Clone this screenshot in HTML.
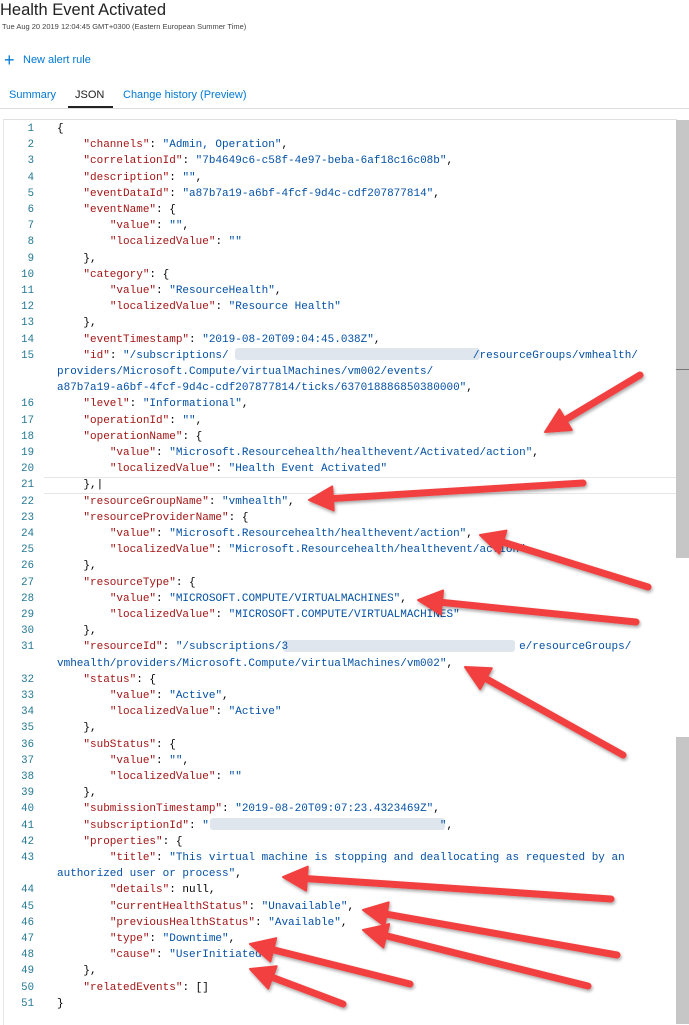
<!DOCTYPE html>
<html><head><meta charset="utf-8"><style>
body{margin:0;width:689px;height:1024px;background:#fff;position:relative;overflow:hidden;font-family:"Liberation Sans",sans-serif}
.t{position:absolute;white-space:nowrap}
.ln{position:absolute;left:0;width:34px;text-align:right;font-family:"Liberation Mono",monospace;font-size:10.7px;color:#237893;line-height:16.2px}
.cd{position:absolute;left:57px;font-family:"Liberation Mono",monospace;font-size:11px;color:#000;line-height:16.2px;white-space:pre}
.k{color:#a31515}.s{color:#0451a5}
.blur{position:absolute;height:12px;background:#dfe6ee;border-radius:3px}
</style></head><body>
<div class="t" style="left:0;top:1px;font-size:16.5px;color:#222;">Health Event Activated</div>
<div class="t" style="left:2px;top:22px;font-size:7.5px;color:#444;">Tue Aug 20 2019 12:04:45 GMT+0300 (Eastern European Summer Time)</div>
<div class="t" style="left:4px;top:51px;font-size:18px;color:#0078d4;line-height:18px;">+</div>
<div class="t" style="left:23px;top:54px;font-size:11px;color:#0078d4;">New alert rule</div>
<div class="t" style="left:9px;top:89px;font-size:11px;color:#0078d4;">Summary</div>
<div class="t" style="left:75px;top:89px;font-size:11px;color:#222;">JSON</div>
<div class="t" style="left:123px;top:89px;font-size:11px;color:#0078d4;">Change history (Preview)</div>
<div style="position:absolute;left:0;top:108px;width:689px;height:1px;background:#ddd"></div>
<div style="position:absolute;left:68px;top:106px;width:45px;height:2px;background:#222"></div>
<div style="position:absolute;left:3px;top:119px;width:673px;height:905px;border-top:1px solid #e0e0e0;border-left:1px solid #e8e8e8"></div>
<div style="position:absolute;left:676px;top:120px;width:13px;height:438px;background:#c6c6c6"></div>
<div style="position:absolute;left:676px;top:737px;width:13px;height:287px;background:#c6c6c6"></div>
<div style="position:absolute;left:676px;top:369px;width:13px;height:1px;background:#777"></div>
<div style="position:absolute;left:44px;top:477px;width:632px;height:15px;border-top:1px solid #e6e6e6;border-bottom:1px solid #e6e6e6"></div>
<div class="blur" style="left:235px;top:348px;width:245px"></div>
<div class="blur" style="left:283px;top:640px;width:232px"></div>
<div class="blur" style="left:210px;top:818px;width:235px"></div>
<div id="code"></div>
<svg style="position:absolute;left:0;top:0" width="689" height="1024">
<defs><filter id="sh" x="-20%" y="-50%" width="140%" height="200%"><feDropShadow dx="1" dy="2" stdDeviation="1.5" flood-color="#000" flood-opacity="0.35"/></filter></defs>
<g id="arr" filter="url(#sh)"></g>
</svg>
<script>
const L=[
['1','{'],
['2','    <k>"channels"</k>: <s>"Admin, Operation"</s>,'],
['3','    <k>"correlationId"</k>: <s>"7b4649c6-c58f-4e97-beba-6af18c16c08b"</s>,'],
['4','    <k>"description"</k>: <s>""</s>,'],
['5','    <k>"eventDataId"</k>: <s>"a87b7a19-a6bf-4fcf-9d4c-cdf207877814"</s>,'],
['6','    <k>"eventName"</k>: {'],
['7','        <k>"value"</k>: <s>""</s>,'],
['8','        <k>"localizedValue"</k>: <s>""</s>'],
['9','    },'],
['10','    <k>"category"</k>: {'],
['11','        <k>"value"</k>: <s>"ResourceHealth"</s>,'],
['12','        <k>"localizedValue"</k>: <s>"Resource Health"</s>'],
['13','    },'],
['14','    <k>"eventTimestamp"</k>: <s>"2019-08-20T09:04:45.038Z"</s>,'],
['15','    <k>"id"</k>: <s>"/subscriptions/                                     /resourceGroups/vmhealth/</s>'],
['','<s>providers/Microsoft.Compute/virtualMachines/vm002/events/</s>'],
['','<s>a87b7a19-a6bf-4fcf-9d4c-cdf207877814/ticks/637018886850380000"</s>,'],
['16','    <k>"level"</k>: <s>"Informational"</s>,'],
['17','    <k>"operationId"</k>: <s>""</s>,'],
['18','    <k>"operationName"</k>: {'],
['19','        <k>"value"</k>: <s>"Microsoft.Resourcehealth/healthevent/Activated/action"</s>,'],
['20','        <k>"localizedValue"</k>: <s>"Health Event Activated"</s>'],
['21','    },|'],
['22','    <k>"resourceGroupName"</k>: <s>"vmhealth"</s>,'],
['23','    <k>"resourceProviderName"</k>: {'],
['24','        <k>"value"</k>: <s>"Microsoft.Resourcehealth/healthevent/action"</s>,'],
['25','        <k>"localizedValue"</k>: <s>"Microsoft.Resourcehealth/healthevent/action"</s>'],
['26','    },'],
['27','    <k>"resourceType"</k>: {'],
['28','        <k>"value"</k>: <s>"MICROSOFT.COMPUTE/VIRTUALMACHINES"</s>,'],
['29','        <k>"localizedValue"</k>: <s>"MICROSOFT.COMPUTE/VIRTUALMACHINES"</s>'],
['30','    },'],
['31','    <k>"resourceId"</k>: <s>"/subscriptions/3                                   e/resourceGroups/</s>'],
['','<s>vmhealth/providers/Microsoft.Compute/virtualMachines/vm002"</s>,'],
['32','    <k>"status"</k>: {'],
['33','        <k>"value"</k>: <s>"Active"</s>,'],
['34','        <k>"localizedValue"</k>: <s>"Active"</s>'],
['35','    },'],
['36','    <k>"subStatus"</k>: {'],
['37','        <k>"value"</k>: <s>""</s>,'],
['38','        <k>"localizedValue"</k>: <s>""</s>'],
['39','    },'],
['40','    <k>"submissionTimestamp"</k>: <s>"2019-08-20T09:07:23.4323469Z"</s>,'],
['41','    <k>"subscriptionId"</k>: <s>"                                   "</s>,'],
['42','    <k>"properties"</k>: {'],
['43','        <k>"title"</k>: <s>"This virtual machine is stopping and deallocating as requested by an</s>'],
['','<s>authorized user or process"</s>,'],
['44','        <k>"details"</k>: null,'],
['45','        <k>"currentHealthStatus"</k>: <s>"Unavailable"</s>,'],
['46','        <k>"previousHealthStatus"</k>: <s>"Available"</s>,'],
['47','        <k>"type"</k>: <s>"Downtime"</s>,'],
['48','        <k>"cause"</k>: <s>"UserInitiated"</s>'],
['49','    },'],
['50','    <k>"relatedEvents"</k>: []'],
['51','}']];
let h='';
L.forEach((l,i)=>{const top=121+i*16.2;
h+=`<div class="ln" style="top:${top}px">${l[0]}</div>`;
h+=`<div class="cd" style="top:${top}px">${l[1].replace(/<k>/g,'<span class="k">').replace(/<\/k>/g,'</span>').replace(/<s>/g,'<span class="s">').replace(/<\/s>/g,'</span>')}</div>`;});
document.getElementById('code').innerHTML=h;
const A=[[545,432,640,375],[309,500,583,483],[480,535,648,587],[418,600,636,622],[465,667,623,755],[283,877,611,899],[363,910,617,955],[363,930,588,986],[250,944,410,984],[250,969,343,1004]];
let g='';
A.forEach(([x1,y1,x2,y2])=>{const dx=x2-x1,dy=y2-y1,d=Math.hypot(dx,dy),ux=dx/d,uy=dy/d,px=-uy,py=ux;
const bx=x1+ux*24,by=y1+uy*24;
g+=`<line x1="${bx}" y1="${by}" x2="${x2}" y2="${y2}" stroke="#f2413f" stroke-width="7" stroke-linecap="round"/>`;
g+=`<polygon points="${x1},${y1} ${bx+px*12},${by+py*12} ${bx-px*12},${by-py*12}" fill="#f2413f" stroke="#f2413f" stroke-width="2" stroke-linejoin="round"/>`;});
document.getElementById('arr').innerHTML=g;
</script>
</body></html>
